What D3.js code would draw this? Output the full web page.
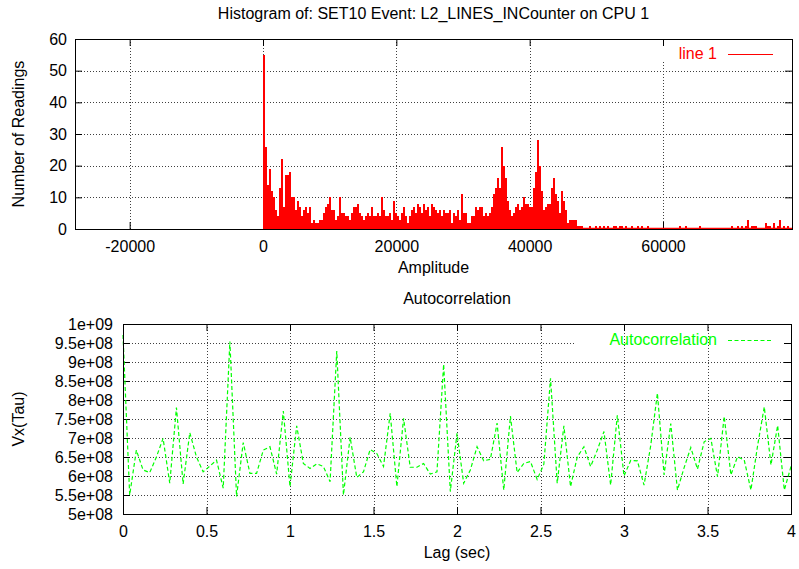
<!DOCTYPE html>
<html>
<head>
<meta charset="utf-8">
<script src="https://cdn.jsdelivr.net/npm/d3@7"></script>
<style>
  body { margin: 0; background: #fff; }
  svg text { font-family: "Liberation Sans", Arial, Helvetica, sans-serif; }
</style>
</head>
<body>
<svg width="799" height="569"></svg>
<script>
// histogram: counts per bin of 300 starting at amplitude 0
const binWidth = 300;
const histCounts = [
  55, 26, 14, 19, 12, 10, 6, 4, 13, 22, 7, 17, 17, 18, 10, 10, 6, 9, 7, 4,
  6, 7, 5, 7, 2, 3, 2, 2, 3, 3, 5, 7, 8, 10, 6, 6, 3, 4, 10, 5,
  5, 4, 4, 3, 5, 7, 7, 8, 5, 4, 3, 4, 5, 4, 7, 4, 4, 5, 4, 10,
  6, 4, 4, 5, 3, 9, 5, 4, 3, 5, 7, 4, 2, 4, 6, 7, 5, 8, 7, 5,
  8, 6, 7, 4, 8, 7, 6, 5, 6, 4, 6, 5, 5, 6, 2, 5, 4, 6, 3, 11,
  5, 5, 2, 2, 4, 4, 7, 6, 7, 7, 4, 5, 4, 5, 7, 11, 13, 16, 13, 26,
  20, 16, 9, 6, 4, 5, 7, 8, 6, 7, 10, 8, 8, 7, 7, 13, 18, 28, 20, 12,
  6, 7, 8, 8, 13, 16, 11, 9, 5, 12, 9, 6, 2, 3, 3, 3, 3, 1, 1, 1
];
// sparse tail: bin start amplitude and count
const tailAmps = [48900, 49800, 50400, 51000, 51600, 52500, 52800, 53400, 53700, 54300,
  55200, 56100, 56700, 57600, 62400, 63300, 65400, 70200, 71100, 71700,
  72300, 72600, 73200, 73500, 73800, 75300, 75600, 75900, 76500, 77100,
  77400, 78000, 78600];
const tailCounts = [1, 1, 1, 1, 1, 1, 1, 1, 1, 1,
  1, 1, 1, 1, 1, 1, 1, 1, 1, 1,
  1, 3, 1, 1, 1, 2, 1, 1, 2, 1,
  3, 1, 1];

// autocorrelation, one value every 0.04 sec (x 1e8)
const lagStep = 0.04;
const acfValues = [
  9.71, 5.50, 6.68, 6.16, 6.09, 6.50, 6.99, 5.81, 7.80, 5.79,
  7.14, 6.50, 6.11, 6.26, 6.42, 5.68, 9.54, 5.46, 6.88, 6.07,
  6.07, 6.68, 6.77, 6.05, 7.71, 5.72, 7.32, 6.33, 6.20, 6.32,
  6.25, 5.85, 9.29, 5.50, 7.02, 5.96, 6.11, 6.70, 6.59, 6.25,
  7.65, 5.72, 7.52, 6.23, 6.23, 6.33, 6.05, 6.11, 8.94, 5.59,
  7.12, 5.81, 6.16, 6.77, 6.40, 6.44, 7.39, 5.63, 7.58, 6.09,
  6.33, 6.38, 5.91, 6.31, 8.57, 5.81, 7.32, 5.72, 6.50, 6.77,
  6.25, 6.68, 7.17, 5.76, 7.60, 6.00, 6.41, 6.40, 5.76, 6.80,
  8.18, 6.03, 7.38, 5.63, 6.22, 6.75, 6.18, 6.90, 6.99, 5.98,
  7.57, 6.03, 6.51, 6.42, 5.63, 6.80, 7.82, 6.29, 7.33, 5.63,
  6.25
];

const histTicksX = [-20000, 0, 20000, 40000, 60000];
const histTicksY = [0, 10, 20, 30, 40, 50, 60];
const acfTicksX = [0, 0.5, 1, 1.5, 2, 2.5, 3, 3.5, 4];
const acfTicksY = [5e8, 5.5e8, 6e8, 6.5e8, 7e8, 7.5e8, 8e8, 8.5e8, 9e8, 9.5e8, 1e9];

const svg = d3.select("svg");
const fontSize = 16;

function sci(v) {
  const e = Math.floor(Math.log10(v) + 1e-9);
  const m = +(v / Math.pow(10, e)).toFixed(2);
  return m + "e+" + (e < 10 ? "0" + e : e);
}

// draws grid, ticks and labels for one panel
function panel(box, x, y, opts) {
  const g = svg.append("g");
  const grid = g.append("g")
    .attr("stroke", "#000")
    .attr("stroke-width", 1)
    .attr("stroke-dasharray", "1,2")
    .attr("opacity", 0.75);

  grid.selectAll(null)
    .data(opts.ticksY.filter(d => y(d) > box.top + 1 && y(d) < box.bottom - 1))
    .enter().append("line")
    .attr("x1", box.left)
    .attr("x2", d => (opts.hCut && Math.abs(y(d) - opts.hCut.y) < 2) ? opts.hCut.x : box.right)
    .attr("y1", d => Math.round(y(d)) + 0.5).attr("y2", d => Math.round(y(d)) + 0.5);

  grid.selectAll(null)
    .data(opts.ticksX.filter(d => x(d) > box.left + 1 && x(d) < box.right - 1))
    .enter().append("line")
    .attr("x1", d => Math.round(x(d)) + 0.5).attr("x2", d => Math.round(x(d)) + 0.5)
    .attr("y1", d => (opts.vCut && x(d) > opts.vCut.x) ? opts.vCut.y : box.top)
    .attr("y2", box.bottom);

  // axes with inward ticks, mirrored on top/right
  const styleAxis = function (a) {
    a.select(".domain").remove();
    a.attr("font-size", fontSize).attr("font-family", null);
    a.selectAll("text").attr("fill", "#000");
    a.selectAll("line").attr("stroke", "#000");
  };
  g.append("g").attr("transform", `translate(0,${box.bottom})`)
    .call(d3.axisBottom(x).tickValues(opts.ticksX).tickSize(-7).tickPadding(12).tickFormat(opts.fmtX))
    .call(styleAxis);
  g.append("g").attr("transform", `translate(0,${box.top})`)
    .call(d3.axisTop(x).tickValues(opts.ticksX).tickSize(-7).tickFormat(""))
    .call(styleAxis);
  g.append("g").attr("transform", `translate(${box.left},0)`)
    .call(d3.axisLeft(y).tickValues(opts.ticksY).tickSize(-7).tickPadding(opts.padY).tickFormat(opts.fmtY))
    .call(styleAxis);
  g.append("g").attr("transform", `translate(${box.right},0)`)
    .call(d3.axisRight(y).tickValues(opts.ticksY).tickSize(-7).tickFormat(""))
    .call(styleAxis);

  // titles
  const cx = (box.left + box.right) / 2;
  g.append("text").attr("x", cx).attr("y", box.top - 20)
    .attr("text-anchor", "middle").attr("font-size", fontSize).text(opts.title);
  g.append("text").attr("x", cx).attr("y", box.bottom + 44)
    .attr("text-anchor", "middle").attr("font-size", fontSize).text(opts.xLabel);
  g.append("text")
    .attr("transform", `translate(24,${(box.top + box.bottom) / 2}) rotate(-90)`)
    .attr("text-anchor", "middle").attr("font-size", fontSize).text(opts.yLabel);

  return g;
}

function frame(box) {
  svg.append("rect")
    .attr("x", box.left + 0.5).attr("y", box.top + 0.5)
    .attr("width", box.right - box.left).attr("height", box.bottom - box.top)
    .attr("fill", "none").attr("stroke", "#000").attr("stroke-width", 1);
}

// ---- top: histogram ----
const hBox = { left: 75, right: 792, top: 39, bottom: 229 };
const hx = d3.scaleLinear().domain([-28200, 79350]).range([hBox.left, hBox.right]);
const hy = d3.scaleLinear().domain([0, 60]).range([hBox.bottom, hBox.top]);

panel(hBox, hx, hy, {
  ticksX: histTicksX, ticksY: histTicksY,
  fmtX: d => String(d), fmtY: d => String(d), padY: 8,
  vCut: { x: 576, y: 62 },
  title: "Histogram of: SET10 Event: L2_LINES_INCounter on CPU 1",
  xLabel: "Amplitude", yLabel: "Number of Readings"
});

const bins = histCounts.map((c, i) => ({ amp: i * binWidth, count: c }))
  .concat(tailAmps.map((a, i) => ({ amp: a, count: tailCounts[i] })));

svg.append("g").selectAll("rect")
  .data(bins.filter(d => d.count > 0))
  .enter().append("rect")
  .attr("x", d => hx(d.amp))
  .attr("y", d => hy(d.count))
  .attr("width", hx(binWidth) - hx(0))
  .attr("height", d => hy(0) - hy(d.count))
  .attr("fill", "#ff0000")
  .attr("shape-rendering", "crispEdges");

svg.append("line")
  .attr("x1", hx(0)).attr("x2", hBox.right)
  .attr("y1", hBox.bottom - 0.5).attr("y2", hBox.bottom - 0.5)
  .attr("stroke", "#ff0000").attr("stroke-width", 1.5);

frame(hBox);

// legend
svg.append("text").attr("x", 717).attr("y", 59)
  .attr("text-anchor", "end").attr("font-size", fontSize).attr("fill", "#ff0000").text("line 1");
svg.append("line").attr("x1", 728).attr("x2", 773).attr("y1", 54.5).attr("y2", 54.5)
  .attr("stroke", "#ff0000").attr("stroke-width", 1);

// ---- bottom: autocorrelation ----
const aBox = { left: 123, right: 791, top: 324, bottom: 514 };
const ax = d3.scaleLinear().domain([0, 4]).range([aBox.left, aBox.right]);
const ay = d3.scaleLinear().domain([5e8, 1e9]).range([aBox.bottom, aBox.top]);

panel(aBox, ax, ay, {
  ticksX: acfTicksX, ticksY: acfTicksY,
  fmtX: d => String(d), fmtY: sci, padY: 10,
  hCut: { x: 576, y: ay(9.5e8) },
  title: "Autocorrelation",
  xLabel: "Lag (sec)", yLabel: "Vx(Tau)"
});

const line = d3.line()
  .x((d, i) => ax(i * lagStep))
  .y(d => ay(d * 1e8));

svg.append("path")
  .datum(acfValues)
  .attr("d", line)
  .attr("fill", "none")
  .attr("stroke", "#00ff00")
  .attr("stroke-width", 1.2)
  .attr("stroke-dasharray", "4,2.5");

frame(aBox);

svg.append("text").attr("x", 717).attr("y", 345)
  .attr("text-anchor", "end").attr("font-size", fontSize).attr("fill", "#00ff00").text("Autocorrelation");
svg.append("line").attr("x1", 728).attr("x2", 773).attr("y1", 340.5).attr("y2", 340.5)
  .attr("stroke", "#00ff00").attr("stroke-width", 1).attr("stroke-dasharray", "4,2.5");
</script>
</body>
</html>
